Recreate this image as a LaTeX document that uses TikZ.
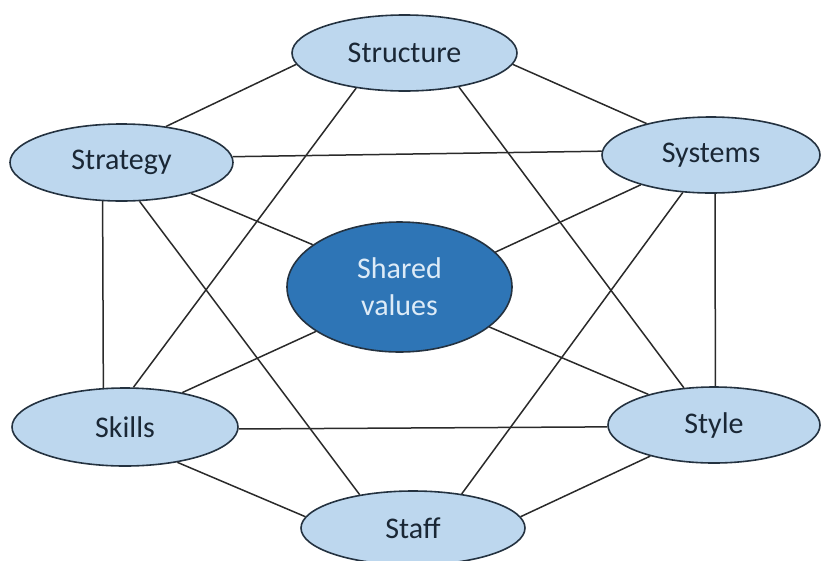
\documentclass[tikz,border=0pt]{standalone}
\usepackage{fontspec}
\setmainfont{Carlito}
\usetikzlibrary{shapes.geometric}
\definecolor{lightfill}{HTML}{BDD7EE}
\definecolor{darkfill}{HTML}{2E75B6}
\definecolor{outline}{HTML}{243240}
\definecolor{txt}{HTML}{1A2735}
\definecolor{lighttxt}{HTML}{DDEBF7}
\definecolor{conn}{HTML}{2A2A2A}
\tikzset{
  outer/.style={ellipse, draw=outline, line width=1.6pt, fill=lightfill, inner sep=0pt,
    text=txt, font=\fontsize{30}{35}\selectfont},
  inner/.style={ellipse, draw=outline, line width=1.6pt, fill=darkfill, inner sep=0pt,
    text=lighttxt, align=center, font=\fontsize{30}{37}\selectfont},
  link/.style={draw=conn, line width=1.5pt}
}
\begin{document}
\begin{tikzpicture}[x=1pt,y=-1pt]
\useasboundingbox (0,0) rectangle (821,560);
\node[outer, minimum width=225pt, minimum height=76pt] (struct) at (404.5,53) {Structure};
\node[outer, minimum width=223pt, minimum height=77pt] (strat) at (121.5,162.5) {Strategy};
\node[outer, minimum width=218pt, minimum height=76pt] (sys) at (711,155) {Systems};
\node[inner, minimum width=225pt, minimum height=130pt] (shared) at (399.5,287) {Shared\\values};
\node[outer, minimum width=226pt, minimum height=78pt] (skills) at (125,427) {Skills};
\node[outer, minimum width=212pt, minimum height=76pt] (style) at (714,425) {Style};
\node[outer, minimum width=224pt, minimum height=74pt] (staff) at (413,528) {Staff};
% connectors
\draw[link] (struct.186.3) -- (strat.39.5);
\draw[link] (struct.354.8) -- (sys.154.1);
\draw[link] (struct.216.8) -- (skills.78.4);
\draw[link] (struct.328.7) -- (style.129.2);
\draw[link] (strat.3.5) -- (sys.178.8);
\draw[link] (strat.336.9) -- (shared.154.9);
\draw[link] (strat.244.3) -- (skills.119.4);
\draw[link] (strat.295.1) -- (staff.148);
\draw[link] (sys.203.8) -- (shared.20.2);
\draw[link] (sys.276) -- (style.88.5);
\draw[link] (sys.233.6) -- (staff.35.8);
\draw[link] (shared.208) -- (skills.31.6);
\draw[link] (shared.336.3) -- (style.155.9);
\draw[link] (skills.359.5) -- (style.181.6);
\draw[link] (skills.326.3) -- (staff.174.3);
\draw[link] (staff.6.8) -- (style.206.6);
\end{tikzpicture}
\end{document}
